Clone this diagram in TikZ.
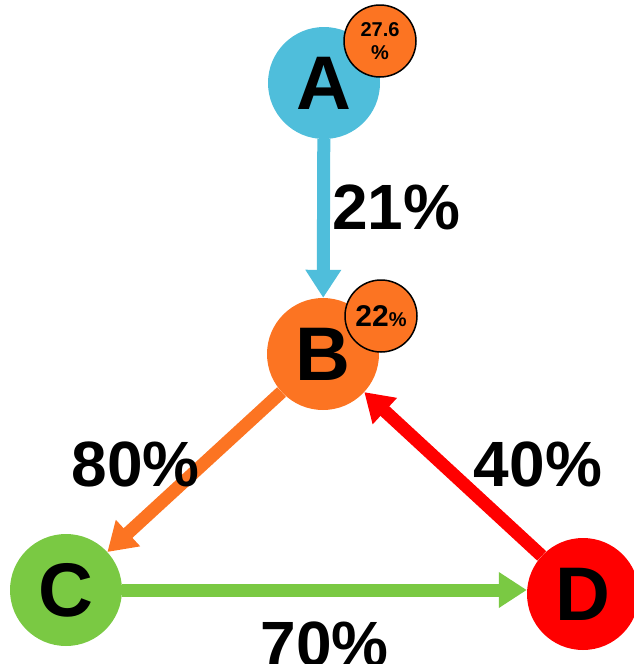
\documentclass[tikz,border=0pt]{standalone}
\usepackage{fontspec}
\setmainfont{Liberation Sans}
\usepackage{xcolor}
\usepackage{tikz}
\usetikzlibrary{arrows.meta}

\definecolor{ablue}{HTML}{4FBEDB}
\definecolor{borange}{HTML}{FC7422}
\definecolor{cgreen}{HTML}{7AC943}
\definecolor{dred}{HTML}{FF0000}

\begin{document}
\begin{tikzpicture}[x=1pt,y=-1pt,
        vertex/.style={circle,inner sep=0pt,minimum size=112pt,font=\fontsize{76}{76}\selectfont\bfseries},
        badge/.style={circle,draw=black,line width=1.5pt,fill=borange,inner sep=0pt,minimum size=72pt,align=center,font=\fontsize{20}{23}\selectfont\bfseries},
        flow/.style={line width=13pt,-{Triangle[length=28pt,width=34pt]}},
        pct/.style={inner sep=0pt,text=black,font=\fontsize{64}{64}\selectfont\bfseries}]
        \useasboundingbox (0,0) rectangle (634,664);

        \node[vertex,fill=ablue] (A) at (324,83) {A};
        \node[vertex,fill=borange] (B) at (323,354) {B};
        \node[vertex,fill=cgreen] (C) at (66,590) {C};
        \node[vertex,fill=dred] (D) at (583,594) {D};

        \node[badge] (shareA) at (380,41) {27.6\\\%};
        \node[badge] (shareB) at (381,316) {{\fontsize{30}{30}\selectfont 22}\%};

        \draw[flow,ablue] (A) -- node[pct,pos=0.43,anchor=west,xshift=2pt] {21\%} (B);
        \draw[flow,borange] (B) -- node[pct,pos=0.45,anchor=east,xshift=3pt] {80\%} (C);
        \draw[flow,cgreen] (C) -- node[pct,midway,below=25pt] {70\%} (C -| D.west);
        \draw[flow,dred] (D) -- node[pct,pos=0.56,anchor=west,xshift=25pt] {40\%} (B);
    \end{tikzpicture}
\end{document}
